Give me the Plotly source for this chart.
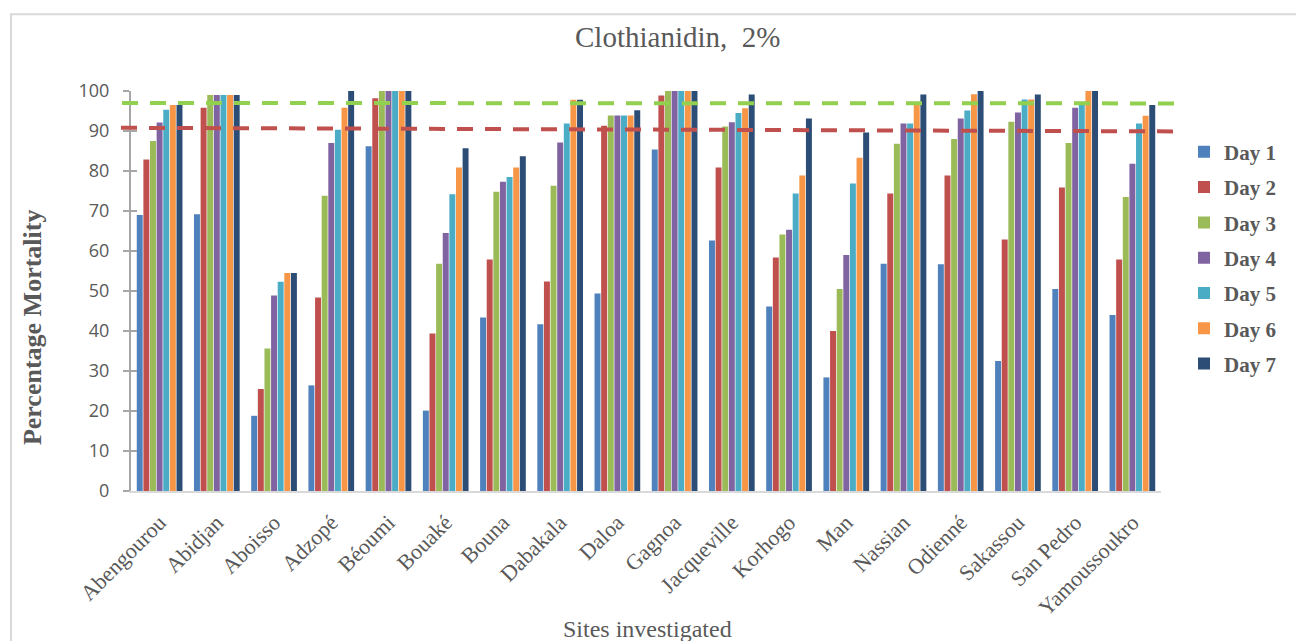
import plotly.graph_objects as go

sites = ["Abengourou", "Abidjan", "Aboisso", "Adzopé", "Béoumi", "Bouaké", "Bouna",
         "Dabakala", "Daloa", "Gagnoa", "Jacqueville", "Korhogo", "Man", "Nassian",
         "Odienné", "Sakassou", "San Pedro", "Yamoussoukro"]

day1 = [69.0, 69.2, 18.8, 26.4, 86.2, 20.1, 43.4, 41.7, 49.4, 85.4, 62.6, 46.1, 28.4, 56.8, 56.7, 32.5, 50.5, 44.0]
day2 = [82.9, 95.8, 25.5, 48.4, 98.2, 39.4, 57.9, 52.4, 91.3, 98.9, 80.9, 58.4, 40.0, 74.4, 78.9, 62.9, 75.9, 57.9]
day3 = [87.5, 99.0, 35.6, 73.8, 100.0, 56.8, 74.8, 76.3, 93.9, 100.0, 91.1, 64.1, 50.5, 86.8, 88.0, 92.3, 87.0, 73.5]
day4 = [92.1, 99.0, 48.9, 87.0, 100.0, 64.5, 77.3, 87.1, 93.9, 100.0, 92.2, 65.3, 59.0, 91.9, 93.1, 94.6, 95.8, 81.8]
day5 = [95.3, 99.0, 52.3, 90.3, 100.0, 74.2, 78.5, 91.9, 93.9, 100.0, 94.5, 74.4, 76.9, 91.9, 95.1, 97.9, 96.9, 91.9]
day6 = [96.5, 99.0, 54.5, 95.8, 100.0, 80.9, 80.9, 97.8, 93.9, 100.0, 95.7, 78.9, 83.3, 96.9, 99.2, 97.9, 100.0, 93.8]
day7 = [96.5, 99.0, 54.5, 100.0, 100.0, 85.7, 83.7, 97.8, 95.2, 100.0, 99.1, 93.1, 89.6, 99.1, 100.0, 99.1, 100.0, 96.5]

series_names = ["Day 1", "Day 2", "Day 3", "Day 4", "Day 5", "Day 6", "Day 7"]
series_values = [day1, day2, day3, day4, day5, day6, day7]
series_colors = ["#4f81bd", "#c0504d", "#9bbb59", "#8064a2", "#4bacc6", "#f79646", "#2c4d75"]

# reference lines (left end, right end)
green_line = [97.0, 96.9]
red_line = [90.8, 89.9]

y_ticks = list(range(0, 101, 10))

fig = go.Figure()
for name, vals, col in zip(series_names, series_values, series_colors):
    fig.add_trace(go.Bar(
        x=sites, y=vals, name="<b>" + name + "</b>", marker_color=col,
        marker_line_width=0, legendgroup=name,
    ))

# invisible overlay axis to give the y axis ticks on both sides
fig.add_trace(go.Scatter(x=[sites[0]], y=[0], yaxis="y2", mode="markers",
                         marker_opacity=0, marker_size=1, showlegend=False, hoverinfo="skip"))

W, H = 1296, 641
L, R, T, B = 131, 135, 90.7, 150
pw = W - L - R
ph = H - T - B

def px(xp):
    return (xp - L) / pw

def py(yp):
    return (H - B - yp) / ph

serif = "Liberation Serif"
grey = "#595959"

shapes = [
    dict(type="rect", xref="paper", yref="paper", x0=px(11), x1=px(1310), y0=py(660), y1=py(14),
         line=dict(color="#d9d9d9", width=2), layer="below"),
    dict(type="line", xref="paper", yref="y", x0=px(122), x1=px(1175), y0=green_line[0], y1=green_line[1],
         line=dict(color="#92d050", width=4, dash="16px,12px")),
    dict(type="line", xref="paper", yref="y", x0=px(121), x1=px(1174), y0=red_line[0], y1=red_line[1],
         line=dict(color="#c0504d", width=4, dash="16px,12px")),
]

annotations = [
    dict(text="Clothianidin,  2%", xref="paper", yref="paper", x=px(677), y=py(37),
         showarrow=False, font=dict(family=serif, size=29, color=grey), xanchor="center", yanchor="middle"),
    dict(text="<b>Percentage Mortality</b>", xref="paper", yref="paper", x=px(32), y=py(327),
         showarrow=False, textangle=-90, font=dict(family=serif, size=26, color=grey),
         xanchor="center", yanchor="middle"),
    dict(text="Sites investigated", xref="paper", yref="paper", x=px(647), y=py(629),
         showarrow=False, font=dict(family=serif, size=24, color=grey), xanchor="center", yanchor="middle"),
]

fig.update_layout(
    width=W, height=H,
    margin=dict(l=L, r=R, t=T, b=B),
    paper_bgcolor="white", plot_bgcolor="white",
    barmode="group", bargap=0.19, bargroupgap=0.1,
    showlegend=True,
    legend=dict(x=px(1184), y=py(258), xanchor="left", yanchor="middle",
                font=dict(family=serif, size=21, color=grey),
                tracegroupgap=5, itemwidth=30, bgcolor="rgba(0,0,0,0)"),
    shapes=shapes, annotations=annotations,
    xaxis=dict(range=[-0.5, len(sites) - 0.5], autorange=False,
               showline=True, linecolor="#d9d9d9", linewidth=2, ticks="", tickangle=-45,
               ticklabelstandoff=8,
               tickfont=dict(family=serif, size=22, color=grey), showgrid=False, zeroline=False),
    yaxis=dict(range=[0, 100], tickvals=y_ticks, showline=True, linecolor="#a6a6a6", linewidth=2,
               ticks="outside", ticklen=6, tickwidth=2, tickcolor="#a6a6a6", ticklabelstandoff=10,
               tickfont=dict(family="Open Sans", size=18, color=grey), showgrid=False, zeroline=False),
    yaxis2=dict(range=[0, 100], tickvals=y_ticks, overlaying="y", side="left", showline=False,
                ticks="inside", ticklen=6, tickwidth=2, tickcolor="#a6a6a6", showticklabels=False,
                showgrid=False, zeroline=False),
)

fig.write_html("out.html")
